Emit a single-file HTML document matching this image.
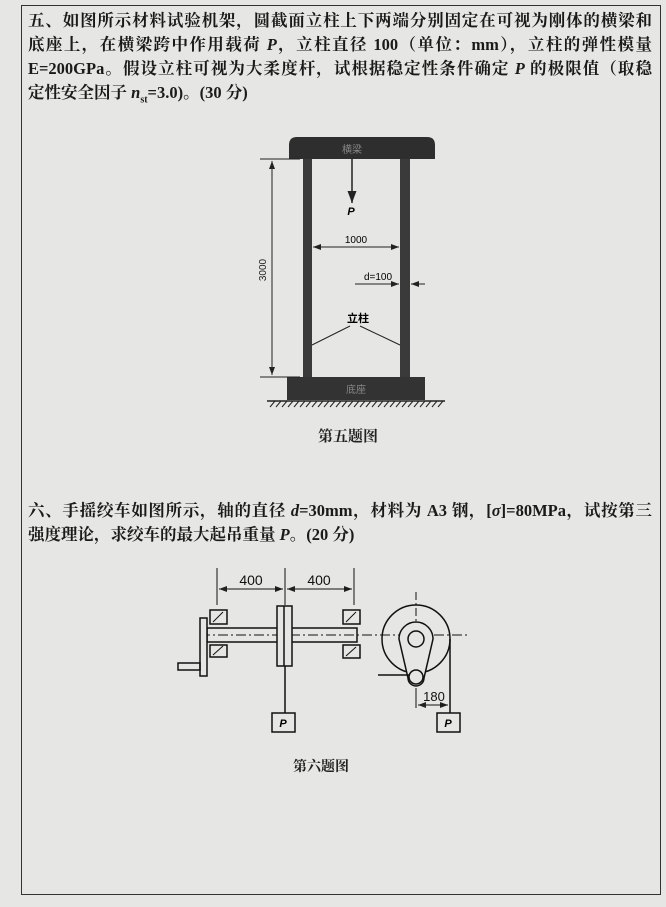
<!DOCTYPE html>
<html><head><meta charset="utf-8"><style>
body{margin:0;width:666px;height:907px;background:#e6e6e4;overflow:hidden;font-family:"Liberation Serif","Noto Serif CJK SC",serif;}
.t{position:absolute;left:28px;width:624px;font-size:16.5px;color:#1a1a1a;white-space:nowrap;text-align:justify;text-align-last:justify;line-height:20px;font-weight:bold;}
.s{text-align-last:left;}
</style></head><body>
<div style="position:absolute;left:21px;top:5px;width:638px;height:888px;border:1.5px solid #333;"></div>
<div class="t" style="top:11px">五、如图所示材料试验机架，圆截面立柱上下两端分别固定在可视为刚体的横梁和</div>
<div class="t" style="top:35px">底座上，在横梁跨中作用载荷 <i>P</i>，立柱直径 100（单位：mm），立柱的弹性模量</div>
<div class="t" style="top:59px">E=200GPa。假设立柱可视为大柔度杆，试根据稳定性条件确定 <i>P</i> 的极限值（取稳</div>
<div class="t s" style="top:83px">定性安全因子 <i>n</i><sub style="font-size:10px">st</sub>=3.0)。(30 分)</div>
<div class="t" style="top:501px">六、手摇绞车如图所示，轴的直径 <i>d</i>=30mm，材料为 A3 钢，[<i>σ</i>]=80MPa，试按第三</div>
<div class="t s" style="top:525px">强度理论，求绞车的最大起吊重量 <i>P</i>。(20 分)</div>
<svg width="666" height="907" style="position:absolute;left:0;top:0" font-family="Liberation Sans,Noto Sans CJK SC,sans-serif">
<defs><marker id="a" markerWidth="8" markerHeight="6" refX="8" refY="3" orient="auto"><path d="M0,0L8,3L0,6z" fill="#222"/></marker></defs>
<path d="M289,159 L289,145 Q289,137 297,137 L427,137 Q435,137 435,145 L435,159Z" fill="#2e2e2e"/>
<text x="352" y="153" font-size="10" fill="#888" text-anchor="middle">横梁</text>
<rect x="303" y="159" width="9" height="218" fill="#3a3a3a"/>
<rect x="400" y="159" width="10" height="218" fill="#3a3a3a"/>
<rect x="287" y="377" width="138" height="23" fill="#333"/>
<text x="356" y="393" font-size="10" fill="#888" text-anchor="middle">底座</text>
<line x1="267" y1="401" x2="445" y2="401" stroke="#222" stroke-width="1.5"/>
<path d="M270,407l5,-6M276,407l5,-6M282,407l5,-6M288,407l5,-6M294,407l5,-6M300,407l5,-6M306,407l5,-6M312,407l5,-6M318,407l5,-6M324,407l5,-6M330,407l5,-6M336,407l5,-6M342,407l5,-6M348,407l5,-6M354,407l5,-6M360,407l5,-6M366,407l5,-6M372,407l5,-6M378,407l5,-6M384,407l5,-6M390,407l5,-6M396,407l5,-6M402,407l5,-6M408,407l5,-6M414,407l5,-6M420,407l5,-6M426,407l5,-6M432,407l5,-6M438,407l5,-6" stroke="#222"/>
<g stroke="#222" stroke-width="1">
<line x1="260" y1="159" x2="300" y2="159"/><line x1="260" y1="377" x2="300" y2="377"/>
<line x1="272" y1="161" x2="272" y2="375" marker-end="url(#a)"/><line x1="272" y1="375" x2="272" y2="161" marker-end="url(#a)"/>
<line x1="352" y1="159" x2="352" y2="203" stroke-width="1.5" marker-end="url(#a)"/>
<line x1="313" y1="247" x2="399" y2="247" marker-end="url(#a)"/><line x1="399" y1="247" x2="313" y2="247" marker-end="url(#a)"/>
<line x1="355" y1="284" x2="399" y2="284" marker-end="url(#a)"/><line x1="425" y1="284" x2="411" y2="284" marker-end="url(#a)"/>
<line x1="350" y1="326" x2="312" y2="345"/><line x1="360" y1="326" x2="400" y2="345"/>
</g>
<text x="266" y="270" font-size="10" transform="rotate(-90 266 270)" text-anchor="middle" fill="#222">3000</text>
<text x="351" y="215" font-size="11" font-style="italic" font-weight="bold" text-anchor="middle">P</text>
<text x="356" y="243" font-size="10" text-anchor="middle">1000</text>
<text x="378" y="280" font-size="10" text-anchor="middle">d=100</text>
<text x="358" y="322" font-size="11" font-weight="bold" text-anchor="middle">立柱</text>
<text x="348" y="441" font-size="15" font-family="Liberation Serif,Noto Serif CJK SC,serif" font-weight="bold" text-anchor="middle" fill="#222">第五题图</text>
<g stroke="#111" stroke-width="1.5" fill="none">
<line x1="217" y1="568" x2="217" y2="605" stroke-width="1"/><line x1="285" y1="568" x2="285" y2="605" stroke-width="1"/><line x1="354" y1="568" x2="354" y2="605" stroke-width="1"/>
<line x1="219" y1="589" x2="283" y2="589" stroke-width="1" marker-end="url(#a)"/><line x1="283" y1="589" x2="219" y2="589" stroke-width="1" marker-end="url(#a)"/>
<line x1="287" y1="589" x2="352" y2="589" stroke-width="1" marker-end="url(#a)"/><line x1="352" y1="589" x2="287" y2="589" stroke-width="1" marker-end="url(#a)"/>
<rect x="210" y="610" width="17" height="14"/><rect x="210" y="645" width="17" height="12"/>
<rect x="343" y="610" width="17" height="14"/><rect x="343" y="645" width="17" height="13"/>
<path d="M213,622l10,-10M213,655l10,-9M346,622l10,-10M346,656l10,-9" stroke-width="1"/>
<rect x="207" y="628" width="150" height="14" fill="#e6e6e4"/>
<line x1="200" y1="635" x2="470" y2="635" stroke-width="1" stroke-dasharray="10,3,2,3"/>
<rect x="200" y="618" width="7" height="58" fill="#e6e6e4"/>
<rect x="178" y="663" width="22" height="7"/>
<rect x="277" y="606" width="15" height="60" fill="#e6e6e4"/><line x1="284" y1="606" x2="284" y2="666"/>
<line x1="285" y1="666" x2="285" y2="713"/>
<rect x="272" y="713" width="23" height="19"/>
<circle cx="416" cy="639" r="34"/>
<line x1="416" y1="592" x2="416" y2="700" stroke-width="1" stroke-dasharray="8,3,2,3"/>
<path d="M399,639 A17,17 0 0 1 433,639 L424,678 A8,8 0 0 1 408,678Z" fill="#e6e6e4"/>
<circle cx="416" cy="639" r="8"/><circle cx="416" cy="677" r="7"/>
<line x1="378" y1="675" x2="410" y2="675"/>
<line x1="450" y1="639" x2="450" y2="713"/>
<rect x="437" y="713" width="23" height="19"/>
<line x1="418" y1="705" x2="448" y2="705" stroke-width="1" marker-end="url(#a)"/><line x1="448" y1="705" x2="418" y2="705" stroke-width="1" marker-end="url(#a)"/>
<line x1="416" y1="690" x2="416" y2="708" stroke-width="1"/>
</g>
<g font-size="14" fill="#111" text-anchor="middle"><text x="251" y="585">400</text><text x="319" y="585">400</text><text x="434" y="701" font-size="13">180</text></g>
<g font-size="11" font-style="italic" font-weight="bold" text-anchor="middle"><text x="283" y="727">P</text><text x="448" y="727">P</text></g>
<text x="321" y="771" font-size="14" font-family="Liberation Serif,Noto Serif CJK SC,serif" font-weight="bold" text-anchor="middle" fill="#222">第六题图</text>
</svg>
</body></html>
